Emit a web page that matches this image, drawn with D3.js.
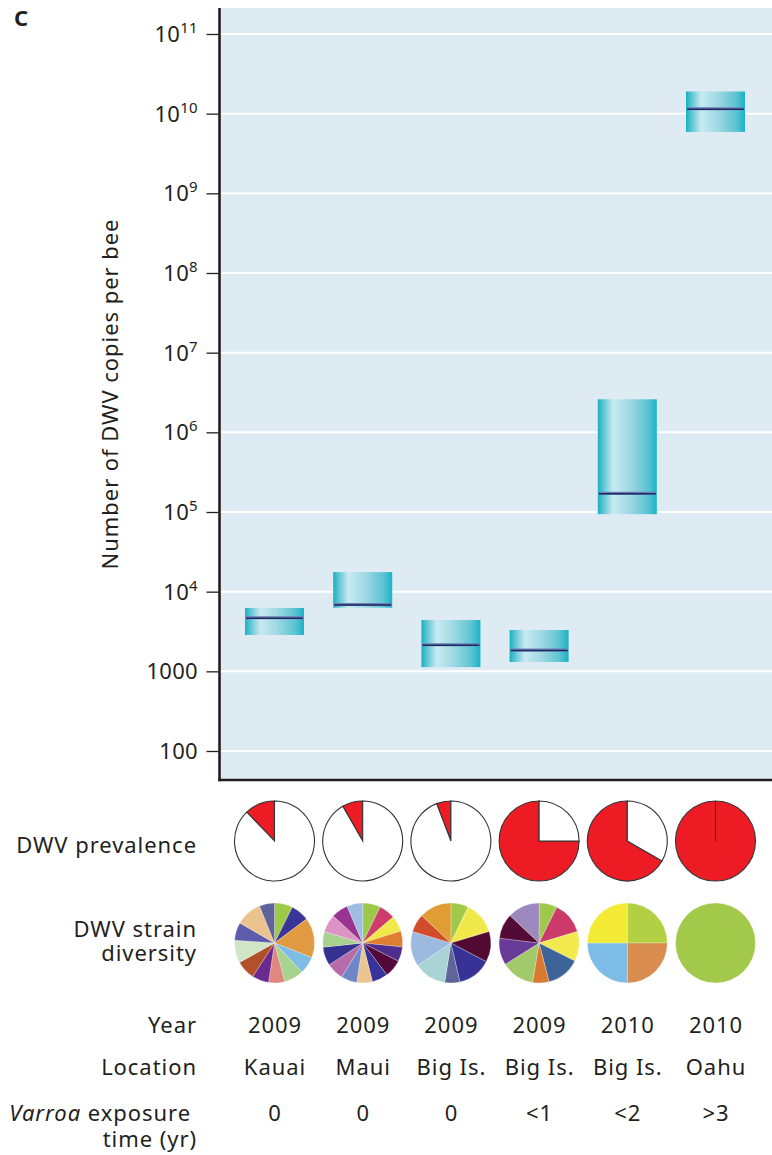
<!DOCTYPE html>
<html>
<head>
<meta charset="utf-8">
<script src="https://cdn.jsdelivr.net/npm/d3@7"></script>
<style>
  html, body { margin: 0; padding: 0; background: #fff; }
  svg { display: block; }
  text { font-family: "Noto Sans", "Open Sans", sans-serif; fill: #231f20; }
  .lbl { letter-spacing: 0.95px; }
</style>
</head>
<body>
<script>
// ---- data ----
const years     = ["2009", "2009", "2009", "2009", "2010", "2010"];
const locations = ["Kauai", "Maui", "Big Is.", "Big Is.", "Big Is.", "Oahu"];
const exposure  = ["0", "0", "0", "<1", "<2", ">3"];

// DWV load per bee: box low / high and median line
const boxLow    = [2860, 6290, 1130, 1310, 94000, 5.9e9];
const boxHigh   = [6240, 17600, 4400, 3300, 2.6e6, 1.9e10];
const boxMedian = [4700, 6900, 2150, 1850, 172000, 1.15e10];

// share of colonies with DWV detected
const prevalence = [0.122, 0.083, 0.058, 0.75, 0.667, 1.0];

// strain diversity: slice sizes (degrees) and slice colours, clockwise from 12 o'clock
const strainKauai = [26.4, 26.8, 58.2, 25.3, 28.3, 23.6, 24.4, 28, 33, 26, 38, 22];
const strainKauaiColors = ["#9dca47", "#3a3496", "#e09b42", "#7cbce5", "#a6d48f", "#e0877f",
                           "#6b2b8e", "#b1502a", "#cfe5c6", "#5f5bab", "#ebc38e", "#5f6399"];
const strainMaui = [25.9, 23.7, 23, 23.1, 21.3, 25.8, 23.1, 22.7, 23.1, 25.3, 27, 22.5, 26.1, 24.4, 23];
const strainMauiColors = ["#9dc94a", "#cd3c6a", "#f1e84a", "#e07e30", "#4d2e8d", "#54093a", "#38339a",
                          "#ebc48f", "#6d86c7", "#b86ba9", "#35318f", "#a7d18e", "#dd94c5", "#963490", "#9fbde3"];
const strainBig09a = [25.5, 47.8, 44.6, 49.1, 22, 46.9, 50.9, 26.5, 46.7];
const strainBig09aColors = ["#9ec949", "#f1e94c", "#520a33", "#373296", "#5f6499",
                            "#a9d3d4", "#9cb9e0", "#d04c2c", "#e09c35"];
const strainBig09b = [26.3, 47, 43.3, 49, 23.9, 48.3, 39.2, 36.3, 46.7];
const strainBig09bColors = ["#9ec94a", "#cc3a6a", "#f2ea4c", "#3d6499", "#d97a30",
                            "#a2c96a", "#683b98", "#540a36", "#9d88be"];
const strainBig10 = [90, 90, 90, 90];
const strainBig10Colors = ["#b3d044", "#d98d4e", "#7dbce6", "#f3ea36"];
const strainOahu = [360];
const strainOahuColors = ["#a3c94a"];

const strainShares = [strainKauai, strainMaui, strainBig09a, strainBig09b, strainBig10, strainOahu];
const strainColors = [strainKauaiColors, strainMauiColors, strainBig09aColors,
                      strainBig09bColors, strainBig10Colors, strainOahuColors];

// y-axis ticks
const tickValues = [1e2, 1e3, 1e4, 1e5, 1e6, 1e7, 1e8, 1e9, 1e10, 1e11];

// ---- layout ----
const W = 772, H = 1155;
const plotLeft = 220, plotRight = 772, plotTop = 8, plotBottom = 780;
const labelRight = 197;

const svg = d3.select("body").append("svg")
  .attr("width", W).attr("height", H);

const idx = d3.range(years.length);

const x = d3.scalePoint().domain(idx).range([274.5, 715.5]);
const y = d3.scaleLog().domain([1e2, 1e11]).range([751, 34]);

// gradient for the boxes
const defs = svg.append("defs");
const grad = defs.append("linearGradient").attr("id", "boxGrad")
  .attr("x1", "0%").attr("x2", "100%").attr("y1", "0%").attr("y2", "0%");
[[0, "#17b1c3"], [0.1, "#62c6d4"], [0.26, "#c8eaf1"], [0.55, "#9dd8e3"], [0.85, "#5cc3d2"], [1, "#18b3c5"]]
  .forEach(([o, c]) => grad.append("stop").attr("offset", o).attr("stop-color", c));

// panel letter
svg.append("text").attr("x", 14).attr("y", 26)
  .attr("font-size", 22).attr("font-weight", "bold").text("C");

// plot background
svg.append("rect")
  .attr("x", plotLeft).attr("y", plotTop)
  .attr("width", plotRight - plotLeft).attr("height", plotBottom - plotTop)
  .attr("fill", "#deebf3");

// horizontal gridlines
svg.append("g").selectAll("line").data(tickValues).join("line")
  .attr("x1", plotLeft).attr("x2", plotRight)
  .attr("y1", d => y(d)).attr("y2", d => y(d))
  .attr("stroke", "#fff").attr("stroke-width", 2);

// y axis with left-hand ticks
const yAxis = d3.axisLeft(y).tickValues(tickValues).tickSize(12).tickSizeOuter(0).tickFormat("");
const axisG = svg.append("g").attr("transform", `translate(${plotLeft - 1.5},0)`).call(yAxis);
axisG.select(".domain").remove();
axisG.selectAll(".tick line").attr("stroke", "#231f20").attr("stroke-width", 1.3);

// axis frame: left and bottom
svg.append("line").attr("x1", plotLeft - 0.5).attr("x2", plotLeft - 0.5)
  .attr("y1", plotTop).attr("y2", plotBottom + 1.2)
  .attr("stroke", "#231f20").attr("stroke-width", 2.6);
svg.append("line").attr("x1", plotLeft - 1.8).attr("x2", plotRight)
  .attr("y1", plotBottom).attr("y2", plotBottom)
  .attr("stroke", "#231f20").attr("stroke-width", 2.4);

// tick labels: plain numbers below 10^4, powers of ten above
const tl = svg.append("g").selectAll("text").data(tickValues).join("text")
  .attr("x", 198).attr("y", d => y(d) + 8)
  .attr("text-anchor", "end").attr("font-size", 22)
  .style("letter-spacing", "0.3px");
tl.each(function(d) {
  const t = d3.select(this);
  const e = Math.round(Math.log10(d));
  if (e <= 3) { t.text(String(d)); return; }
  t.append("tspan").text("10");
  t.append("tspan").attr("font-size", 15).attr("dy", -9).text(String(e));
});

// y-axis title
svg.append("text").attr("class", "lbl")
  .attr("transform", `translate(118,${(plotTop + plotBottom) / 2}) rotate(-90)`)
  .attr("text-anchor", "middle").attr("font-size", 22)
  .text("Number of DWV copies per bee");

// boxes
const bw = 59;
const boxes = svg.append("g").selectAll("g").data(idx).join("g");
boxes.append("rect")
  .attr("x", i => x(i) - bw / 2).attr("width", bw)
  .attr("y", i => y(boxHigh[i])).attr("height", i => y(boxLow[i]) - y(boxHigh[i]))
  .attr("fill", "url(#boxGrad)");
boxes.append("line")
  .attr("x1", i => x(i) - bw / 2 + 1).attr("x2", i => x(i) + bw / 2 - 1)
  .attr("y1", i => y(boxMedian[i])).attr("y2", i => y(boxMedian[i]))
  .attr("stroke", "#6b7fb3").attr("stroke-width", 3);
boxes.append("line")
  .attr("x1", i => x(i) - bw / 2 + 1).attr("x2", i => x(i) + bw / 2 - 1)
  .attr("y1", i => y(boxMedian[i]) + 0.4).attr("y2", i => y(boxMedian[i]) + 0.4)
  .attr("stroke", "#1f2966").attr("stroke-width", 1.5);

// prevalence pies: white then red, red ending at 12 o'clock
const r = 40;
const arc = d3.arc().innerRadius(0).outerRadius(r);
const prevY = 841;
const prevG = svg.append("g").selectAll("g").data(idx).join("g")
  .attr("transform", i => `translate(${x(i)},${prevY})`);
prevG.each(function(i) {
  const g = d3.select(this);
  const split = (1 - prevalence[i]) * 2 * Math.PI;
  g.append("path").attr("d", arc({ startAngle: split, endAngle: 2 * Math.PI }))
    .attr("fill", "#ed1c24").attr("stroke", "#333").attr("stroke-width", 1.1);
  g.append("path").attr("d", arc({ startAngle: 0, endAngle: split }))
    .attr("fill", "#fff").attr("stroke", "#333").attr("stroke-width", 1.1);
});

// strain diversity pies
const strainY = 943;
const pie = d3.pie().sort(null).value(d => d);
const strainG = svg.append("g").selectAll("g").data(idx).join("g")
  .attr("transform", i => `translate(${x(i)},${strainY})`);
strainG.each(function(i) {
  d3.select(this).selectAll("path").data(pie(strainShares[i])).join("path")
    .attr("d", arc)
    .attr("fill", (d, k) => strainColors[i][k])
    .attr("stroke", "#ffffff").attr("stroke-opacity", 0.5).attr("stroke-width", 0.5);
});

// row labels
const fs = 22;
function rowLabel(txt, yy) {
  return svg.append("text").attr("class", "lbl")
    .attr("x", labelRight).attr("y", yy).attr("text-anchor", "end")
    .attr("font-size", fs).text(txt);
}
rowLabel("DWV prevalence", 853);
rowLabel("DWV strain", 937);
rowLabel("diversity", 961);
rowLabel("Year", 1033);
rowLabel("Location", 1075);
const vt = svg.append("text").attr("class", "lbl")
  .attr("x", labelRight - 6).attr("y", 1121).attr("text-anchor", "end")
  .attr("font-size", fs);
vt.append("tspan").attr("font-style", "italic").text("Varroa");
vt.append("tspan").text(" exposure");
rowLabel("time (yr)", 1147);

// per-site values
const rows = [[years, 1033], [locations, 1075], [exposure, 1121]];
rows.forEach(([vals, yy]) => {
  svg.append("g").selectAll("text").data(idx).join("text").attr("class", "lbl")
    .attr("x", i => x(i) + 0.5).attr("y", yy).attr("text-anchor", "middle")
    .attr("font-size", fs).text(i => vals[i]);
});
</script>
</body>
</html>
